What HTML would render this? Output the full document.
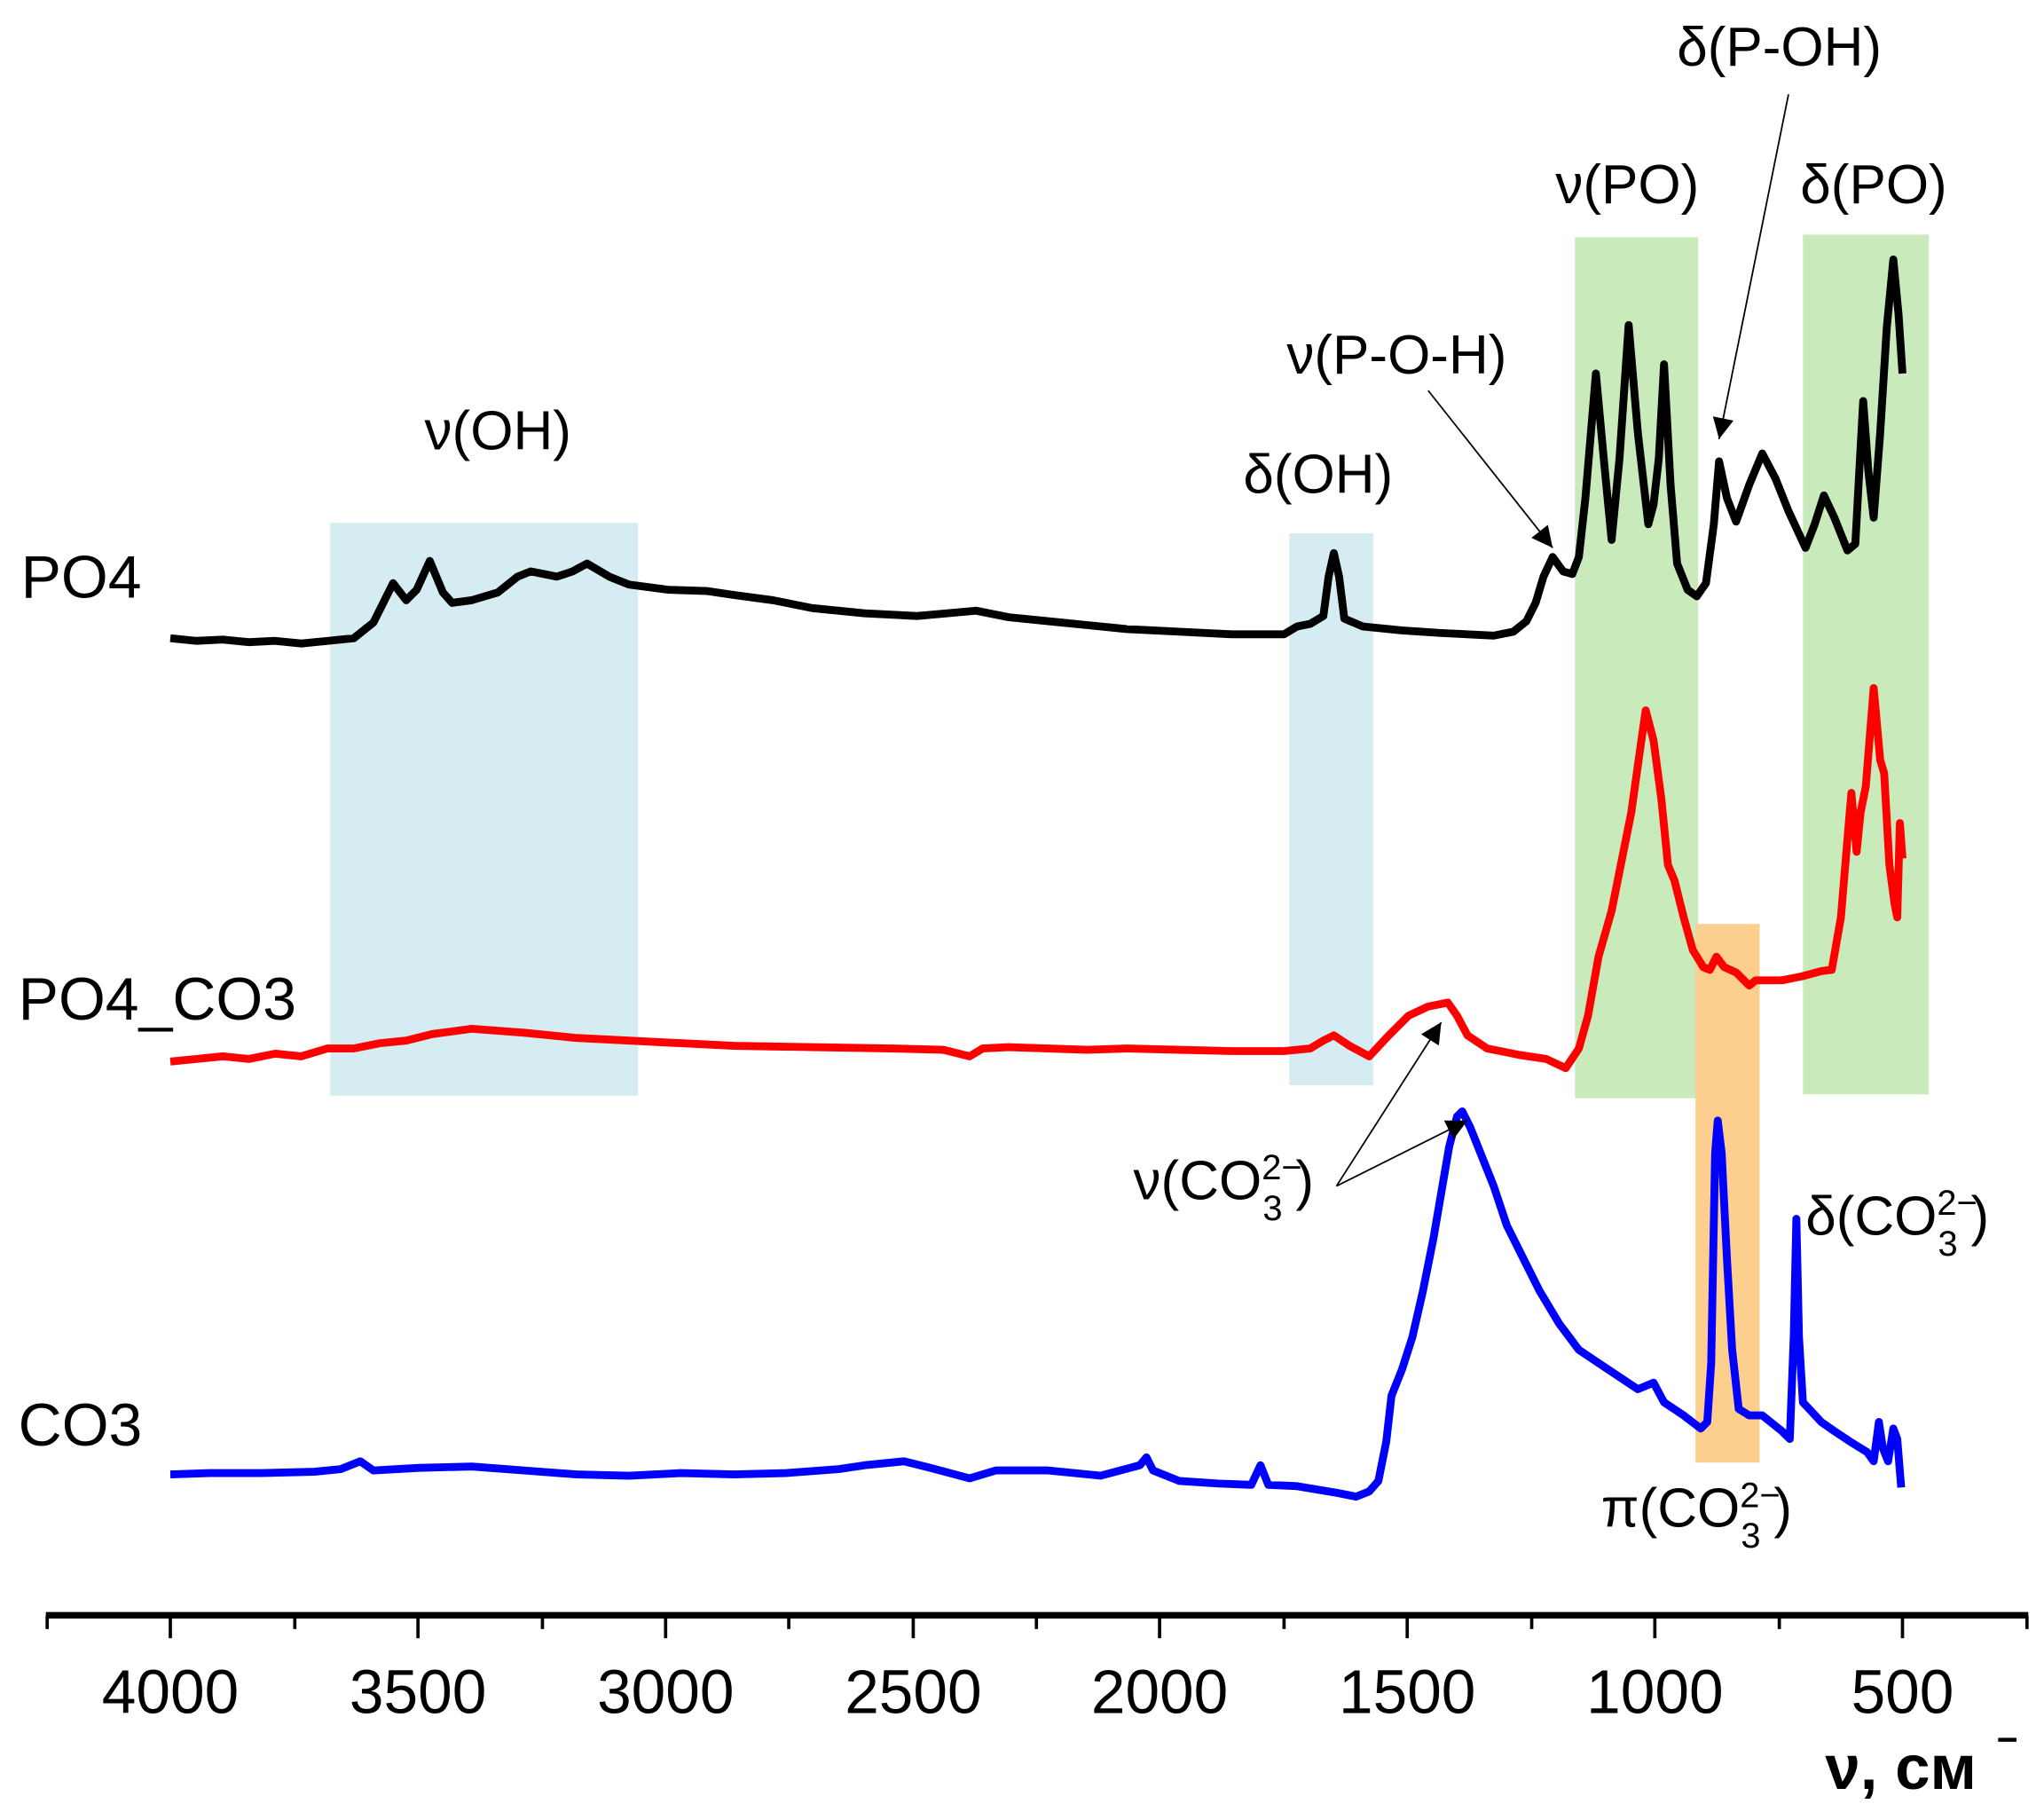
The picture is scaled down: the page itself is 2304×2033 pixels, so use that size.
<!DOCTYPE html>
<html><head><meta charset="utf-8"><style>
html,body{margin:0;padding:0;background:#fff;}
svg{display:block;}
text{font-family:"Liberation Sans",sans-serif;fill:#000;}
</style></head><body>
<svg width="2304" height="2033" viewBox="0 0 1560 1376.5" xmlns="http://www.w3.org/2000/svg">
<defs>
<marker id="ah2" viewBox="0 0 10 10" refX="10" refY="5" markerWidth="22" markerHeight="16" orient="auto" markerUnits="userSpaceOnUse"><path d="M0,0 L10,5 L0,10 z" fill="#000"/></marker>
</defs>
<rect x="252" y="399" width="235" height="437" fill="#d4ecf2"/>
<rect x="984" y="407" width="64" height="421" fill="#d4ecf2"/>
<rect x="1202" y="181" width="94" height="657" fill="#c9eabb"/>
<rect x="1376" y="179" width="96" height="656" fill="#c9eabb"/>
<rect x="1294" y="705" width="49" height="411" fill="#fccf8f"/>

<polyline fill="none" stroke="#000" stroke-width="6" stroke-linejoin="round" points="130,487 150,489 170,488 190,490 210,489 230,491 250,489 270,487 285,475 300,445 310,458 318,450 328,428 338,452 345,460 360,458 380,452 395,440 405,436 415,438 425,440 437,436 448,430 465,440 480,446 510,450 540,451 560,454 590,458 620,464 660,468 700,470 745,466 770,471 800,474 830,477 860,480 900,482 940,484 980,484 990,478 1000,476 1010,470 1014,440 1018,422 1022,440 1026,472 1040,478 1070,481 1100,483 1140,485 1155,482 1165,474 1172,460 1178,440 1185,425 1193,436 1200,438 1205,425 1210,380 1218,285 1224,350 1230,412 1236,350 1243,248 1250,330 1258,400 1262,385 1266,350 1270,278 1275,370 1280,430 1288,450 1295,455 1302,445 1308,400 1312,352 1318,380 1325,398 1335,370 1345,346 1355,365 1365,390 1378,418 1385,400 1392,378 1400,395 1410,420 1416,415 1419,360 1422,306 1426,360 1430,395 1435,330 1440,250 1445,198 1449,240 1452,285"/>

<polyline fill="none" stroke="#f00" stroke-width="6" stroke-linejoin="round" points="130,810 150,808 170,806 190,808 210,804 230,806 250,800 270,800 290,796 310,794 330,789 360,785 400,788 440,792 500,795 560,798 620,799 680,800 720,801 740,806 750,800 770,799 800,800 830,801 860,800 900,801 940,802 980,802 1000,800 1010,794 1018,790 1030,798 1045,806 1060,790 1075,775 1090,768 1105,765 1112,775 1120,790 1135,800 1160,805 1180,808 1195,815 1205,800 1212,775 1220,730 1230,695 1238,655 1245,620 1252,570 1256,542 1262,565 1268,610 1273,660 1278,672 1285,700 1292,725 1300,738 1305,740 1310,730 1316,738 1325,742 1335,752 1340,748 1360,748 1375,745 1390,741 1398,740 1405,700 1410,640 1413,605 1417,650 1420,620 1424,600 1430,525 1435,580 1438,590 1442,660 1446,690 1448,700 1450,628 1452,655"/>

<polyline fill="none" stroke="#00f" stroke-width="6" stroke-linejoin="round" points="130,1125 160,1124 200,1124 240,1123 260,1121 275,1115 285,1122 320,1120 360,1119 400,1122 440,1125 480,1126 520,1124 560,1125 600,1124 640,1121 660,1118 690,1115 710,1120 740,1128 760,1122 800,1122 840,1126 870,1118 875,1112 880,1122 900,1130 930,1132 955,1133 962,1118 968,1133 990,1134 1020,1139 1035,1142 1045,1138 1052,1130 1058,1100 1062,1065 1070,1045 1078,1020 1086,985 1094,945 1100,910 1106,875 1112,852 1116,848 1122,860 1130,880 1140,905 1150,935 1160,955 1175,985 1190,1010 1205,1030 1220,1040 1235,1050 1250,1060 1262,1055 1270,1070 1285,1080 1298,1090 1303,1085 1306,1040 1309,880 1311,855 1314,880 1318,960 1322,1030 1327,1075 1335,1080 1345,1080 1360,1092 1366,1098 1369,1020 1371,930 1373,1020 1376,1070 1390,1085 1400,1092 1412,1100 1425,1108 1430,1115 1434,1085 1437,1105 1441,1115 1445,1090 1448,1098 1451,1135"/>

<rect x="35" y="1230" width="1513" height="5" fill="#000"/>
<g stroke="#000" stroke-width="2.5">
<line x1="130" y1="1233" x2="130" y2="1250"/><line x1="319" y1="1233" x2="319" y2="1250"/><line x1="508" y1="1233" x2="508" y2="1250"/><line x1="697" y1="1233" x2="697" y2="1250"/><line x1="885" y1="1233" x2="885" y2="1250"/><line x1="1074" y1="1233" x2="1074" y2="1250"/><line x1="1263" y1="1233" x2="1263" y2="1250"/><line x1="1452" y1="1233" x2="1452" y2="1250"/>
<line x1="36" y1="1233" x2="36" y2="1243"/><line x1="225" y1="1233" x2="225" y2="1243"/><line x1="414" y1="1233" x2="414" y2="1243"/><line x1="602" y1="1233" x2="602" y2="1243"/><line x1="791" y1="1233" x2="791" y2="1243"/><line x1="980" y1="1233" x2="980" y2="1243"/><line x1="1169" y1="1233" x2="1169" y2="1243"/><line x1="1358" y1="1233" x2="1358" y2="1243"/><line x1="1547" y1="1233" x2="1547" y2="1243"/>
</g>
<g font-size="47" text-anchor="middle">
<text x="130" y="1307">4000</text><text x="319" y="1307">3500</text><text x="508" y="1307">3000</text><text x="697" y="1307">2500</text>
<text x="885" y="1307">2000</text><text x="1074" y="1307">1500</text><text x="1263" y="1307">1000</text><text x="1452" y="1307">500</text>
</g>
<text x="1393" y="1365" font-size="48" font-weight="bold">ν, см</text>
<rect x="1525" y="1326" width="14" height="3" fill="#000"/>

<g font-size="46">
<text x="16" y="456">PO4</text>
<text x="14" y="778">PO4_CO3</text>
<text x="14" y="1103">CO3</text>
</g>

<g font-size="42" text-anchor="middle">
<text x="380" y="343">ν(OH)</text>
<text x="1006" y="376">δ(OH)</text>
<text x="1066" y="285">ν(P-O-H)</text>
<text x="1242" y="155">ν(PO)</text>
<text x="1358" y="50">δ(P-OH)</text>
<text x="1430" y="155">δ(PO)</text>
</g>
<g font-size="42">
<text x="865" y="915">ν(CO<tspan font-size="27" dy="-15">2−</tspan><tspan font-size="27" dx="-30" dy="31">3</tspan><tspan dy="-16" dx="10">)</tspan></text>
<text x="1378" y="942">δ(CO<tspan font-size="27" dy="-15">2−</tspan><tspan font-size="27" dx="-30" dy="31">3</tspan><tspan dy="-16" dx="10">)</tspan></text>
<text x="1222" y="1165">π(CO<tspan font-size="27" dy="-15">2−</tspan><tspan font-size="27" dx="-30" dy="31">3</tspan><tspan dy="-16" dx="10">)</tspan></text>
</g>
<g stroke="#000" stroke-width="1.2" fill="none">
<line x1="1090" y1="298" x2="1185" y2="418" marker-end="url(#ah2)"/>
<line x1="1365" y1="72" x2="1312" y2="335" marker-end="url(#ah2)"/>
<line x1="1020" y1="905" x2="1100" y2="780" marker-end="url(#ah2)"/>
<line x1="1020" y1="905" x2="1120" y2="855" marker-end="url(#ah2)"/>
</g>
</svg>
</body></html>
